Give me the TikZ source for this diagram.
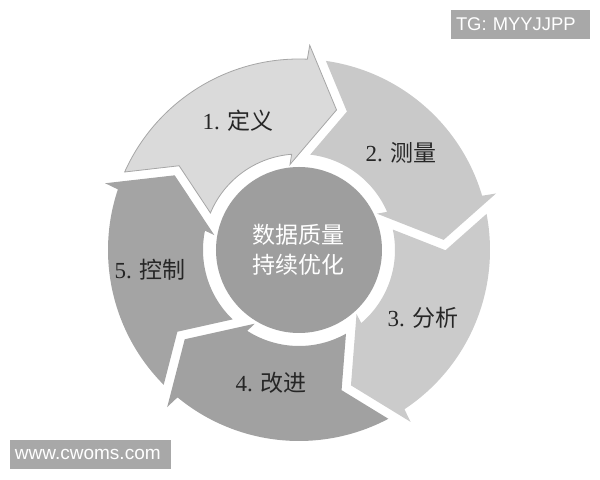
\documentclass[tikz,border=0pt]{standalone}
\usepackage{fontspec}
\setmainfont{Liberation Serif}
\newfontfamily\cjk{Noto Sans CJK SC}
\newfontfamily\marksans{Liberation Sans}

\definecolor{stepone}{gray}{0.855}
\definecolor{steptwo}{gray}{0.79}
\definecolor{stepthree}{gray}{0.795}
\definecolor{stepfour}{gray}{0.63}
\definecolor{stepfive}{gray}{0.645}
\definecolor{hubgray}{gray}{0.62}
\definecolor{markgray}{gray}{0.66}

\begin{document}
\begin{tikzpicture}[x=0.5pt,y=0.5pt]
    \tikzstyle{ringlabel}=[font=\fontsize{11.5}{13}\selectfont, text=black!85, inner sep=0pt]
    \tikzstyle{hub}=[circle, fill=hubgray, minimum size=166pt*0.5, inner sep=0pt, text=white, align=center, font=\cjk\fontsize{11.5}{15}\selectfont]
    \tikzstyle{markbox}=[fill=markgray, text=white, inner xsep=2.5pt, inner ysep=0pt, minimum height=14.5pt, align=left]
    \useasboundingbox (-299,-230) rectangle (301,250);

    % ring of arrows, clockwise
    \fill[stepone, draw=black!35, line width=0.4pt] (155.9:191) arc[start angle=155.9, end angle=87.5, radius=191] -- (87:205) -- (75:145) -- (96:86) -- (94.4:96) arc[start angle=94.4, end angle=157.3, radius=96] -- (144.9:146.5) -- cycle;
    \fill[steptwo] (81.9:191) arc[start angle=81.9, end angle=16.5, radius=191] -- (16:205) -- (4:145) -- (25:86) -- (23.4:96) arc[start angle=23.4, end angle=83.3, radius=96] -- (70.9:146.5) -- cycle;
    \fill[stepthree] (10.9:191) arc[start angle=10.9, end angle=-56.5, radius=191] -- (-57:205) -- (-69:145) -- (-48:86) -- (-49.6:96) arc[start angle=-49.6, end angle=12.3, radius=96] -- (-0.1:146.5) -- cycle;
    \fill[stepfour] (-62.1:191) arc[start angle=-62.1, end angle=-129.5, radius=191] -- (-130:205) -- (-142:145) -- (-121:86) -- (-122.6:96) arc[start angle=-122.6, end angle=-60.7, radius=96] -- (-73.1:146.5) -- cycle;
    \fill[stepfive] (224.9:191) arc[start angle=224.9, end angle=161.5, radius=191] -- (161:205) -- (149:145) -- (170:86) -- (168.4:96) arc[start angle=168.4, end angle=226.3, radius=96] -- (213.9:146.5) -- cycle;

    % centre
    \node[hub] (hub) at (0,0) {数据质量\\持续优化};

    % step labels
    \node[ringlabel] (define) at (-61,129) {1. {\cjk 定义}};
    \node[ringlabel] (measure) at (102,97) {2. {\cjk 测量}};
    \node[ringlabel] (analyse) at (124,-68) {3. {\cjk 分析}};
    \node[ringlabel] (improve) at (-28,-133) {4. {\cjk 改进}};
    \node[ringlabel] (control) at (-149,-20) {5. {\cjk 控制}};

    % watermarks
    \node[markbox, text width=64.5pt, font=\marksans\fontsize{9.2}{11}\selectfont] (tg) at (221.5,225.5) {TG: MYYJJPP};
    \node[markbox, text width=75.5pt, font=\marksans\fontsize{9.5}{11}\selectfont] (web) at (-208.5,-204.5) {www.cwoms.com};

\end{tikzpicture}
\end{document}
